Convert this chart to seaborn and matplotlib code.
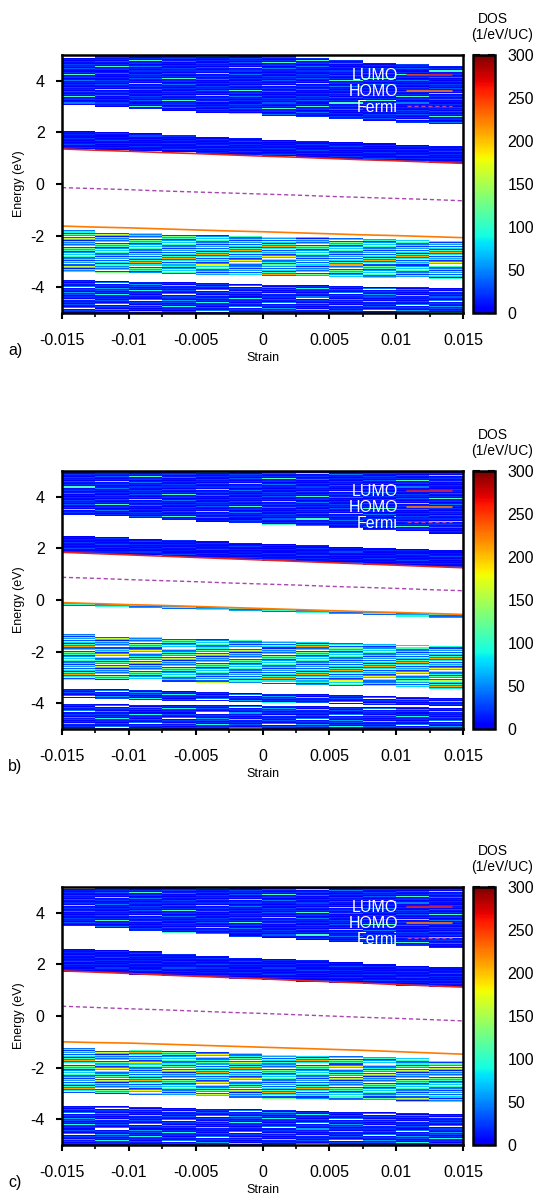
import numpy as np
import pandas as pd
import matplotlib
matplotlib.use("Agg")
import matplotlib.pyplot as plt
from matplotlib.colors import ListedColormap
import seaborn as sns

sns.set_style("ticks")
plt.rcParams['font.family'] = ['Liberation Sans', 'DejaVu Sans']
plt.rcParams.update({"axes.edgecolor": "black", "xtick.color": "black",
                     "ytick.color": "black", "text.color": "black",
                     "axes.labelcolor": "black"})

# Strain points (column edges of the DOS map, also the x of the level lines)
STRAIN = [-0.015, -0.0125, -0.01, -0.0075, -0.005, -0.0025, 0.0,
          0.0025, 0.005, 0.0075, 0.01, 0.0125, 0.015]
XTICKS = [-0.015, -0.01, -0.005, 0.0, 0.005, 0.01, 0.015]
XTICK_LABELS = ["-0.015", "-0.01", "-0.005", "0", "0.005", "0.01", "0.015"]
YTICKS = [-4, -2, 0, 2, 4]
CB_TICKS = [0, 50, 100, 150, 200, 250, 300]

# DOS textures (1/eV/UC) repeated down each band, nan = empty row
TEX_UP = [8, 15, 4, 22, 10, 2, 28, 12, 18, 6, 35, 14, 5, 20, 3, 110, 9, 16, 25, 7, 12, 45]
TEX_CB = [6, 12, 3, 18, 9, 2, 24, 10, 5, 15, 4, 13, 30, 8, 5, 20]
TEX_VB = [45, 90, 25, 120, 60, np.nan, 35, 160, 80, 15, 105, 50, 210, 40, 85,
          np.nan, 30, 130, 65, 100, 20, 55, 180, 75, np.nan, 110, 40]
TEX_DEEP = [12, 22, 6, 35, 15, 4, 45, np.nan, 10, 28, 18, 3, 60, 14, 30, 8, 20, 5, 90, 16]
TEX_HOMO = [60, 100, 40]

# ---- panel a) band edges per strain column (eV)
A_UP_HI = [4.88, 4.95, 5.0, 5.0, 5.0, 5.0, 5.0, 4.88, 4.80, 4.70, 4.63, 4.58]
A_UP_LO = [3.09, 3.00, 2.93, 2.86, 2.78, 2.72, 2.65, 2.60, 2.51, 2.45, 2.38, 2.33]
A_CB_HI = [2.06, 2.00, 1.95, 1.90, 1.85, 1.80, 1.74, 1.69, 1.64, 1.59, 1.53, 1.48]
A_CB_LO = [1.38, 1.33, 1.28, 1.23, 1.18, 1.13, 1.07, 1.02, 0.97, 0.92, 0.87, 0.82]
A_VB_HI = [-1.80, -1.84, -1.88, -1.92, -1.95, -1.98, -2.02, -2.05, -2.08, -2.12, -2.15, -2.18]
A_VB_LO = [-3.40, -3.42, -3.45, -3.47, -3.50, -3.52, -3.55, -3.57, -3.60, -3.62, -3.64, -3.66]
A_DP_HI = [-3.72, -3.75, -3.78, -3.81, -3.84, -3.87, -3.90, -3.93, -3.96, -3.99, -4.02, -4.05]
A_DP_LO = [-5.0] * 12
A_LUMO = [1.36, 1.31, 1.27, 1.22, 1.18, 1.13, 1.08, 1.04, 0.99, 0.94, 0.90, 0.85, 0.80]
A_HOMO = [-1.63, -1.67, -1.70, -1.74, -1.78, -1.82, -1.85, -1.89, -1.93, -1.97, -2.00, -2.04, -2.08]
A_FERMI = [-0.14, -0.18, -0.22, -0.27, -0.31, -0.35, -0.39, -0.43, -0.48, -0.52, -0.56, -0.60, -0.65]

# ---- panel b)
B_UP_HI = [5.0] * 12
B_UP_LO = [3.29, 3.23, 3.16, 3.13, 3.06, 3.00, 2.93, 2.87, 2.80, 2.71, 2.67, 2.58]
B_CB_HI = [2.48, 2.43, 2.38, 2.33, 2.27, 2.22, 2.17, 2.12, 2.06, 2.01, 1.96, 1.91]
B_CB_LO = [1.85, 1.80, 1.75, 1.69, 1.64, 1.59, 1.53, 1.48, 1.43, 1.38, 1.32, 1.27]
B_HB_HI = [-0.12, -0.16, -0.20, -0.24, -0.28, -0.32, -0.36, -0.40, -0.44, -0.48, -0.52, -0.56]
B_HB_LO = [-0.22, -0.26, -0.30, -0.34, -0.38, -0.42, -0.46, -0.50, -0.54, -0.58, -0.62, -0.66]
B_VB_HI = [-1.32, -1.40, -1.45, -1.49, -1.52, -1.55, -1.59, -1.63, -1.68, -1.71, -1.74, -1.81]
B_VB_LO = [-3.10, -3.10, -3.13, -3.16, -3.18, -3.21, -3.24, -3.27, -3.30, -3.33, -3.37, -3.42]
B_D1_HI = [-3.42, -3.45, -3.48, -3.52, -3.55, -3.58, -3.62, -3.65, -3.69, -3.72, -3.76, -3.79]
B_D1_LO = [-3.81, -3.84, -3.87, -3.90, -3.92, -3.95, -3.98, -4.00, -4.03, -4.06, -4.08, -4.11]
B_D2_HI = [-4.03, -4.04, -4.06, -4.07, -4.09, -4.10, -4.12, -4.13, -4.15, -4.16, -4.18, -4.19]
B_D2_LO = [-5.0] * 12
B_LUMO = [1.85, 1.80, 1.75, 1.70, 1.65, 1.60, 1.55, 1.50, 1.45, 1.40, 1.35, 1.30, 1.25]
B_HOMO = [-0.10, -0.14, -0.18, -0.21, -0.25, -0.29, -0.33, -0.37, -0.41, -0.45, -0.48, -0.52, -0.56]
B_FERMI = [0.88, 0.84, 0.79, 0.75, 0.71, 0.66, 0.62, 0.58, 0.53, 0.49, 0.45, 0.40, 0.36]

# ---- panel c)
C_UP_HI = [4.94, 5.0, 5.0, 5.0, 5.0, 5.0, 5.0, 5.0, 5.0, 5.0, 5.0, 5.0]
C_UP_LO = [3.48, 3.39, 3.30, 3.22, 3.17, 3.09, 3.04, 2.96, 2.90, 2.81, 2.73, 2.65]
C_CB_HI = [2.61, 2.57, 2.52, 2.42, 2.33, 2.26, 2.20, 2.16, 2.09, 2.00, 1.93, 1.87]
C_CB_LO = [1.73, 1.68, 1.62, 1.57, 1.51, 1.45, 1.40, 1.34, 1.29, 1.23, 1.18, 1.12]
C_VB_HI = [-1.24, -1.30, -1.30, -1.33, -1.41, -1.45, -1.50, -1.54, -1.57, -1.61, -1.65, -1.76]
C_VB_LO = [-3.01, -3.04, -3.07, -3.10, -3.13, -3.16, -3.19, -3.22, -3.25, -3.28, -3.30, -3.33]
C_DP_HI = [-3.46, -3.49, -3.52, -3.55, -3.58, -3.61, -3.64, -3.67, -3.70, -3.73, -3.75, -3.78]
C_DP_LO = [-5.0] * 12
C_LUMO = [1.75, 1.70, 1.65, 1.59, 1.54, 1.49, 1.44, 1.38, 1.33, 1.28, 1.22, 1.17, 1.12]
C_HOMO = [-1.00, -1.03, -1.05, -1.09, -1.13, -1.17, -1.21, -1.25, -1.29, -1.33, -1.38, -1.43, -1.48]
C_FERMI = [0.38, 0.33, 0.28, 0.24, 0.19, 0.14, 0.10, 0.05, 0.00, -0.05, -0.09, -0.14, -0.19]

W, H = 538, 1204
E_EDGES = np.arange(-5.0, 5.0001, 0.04)
E_MID = 0.5 * (E_EDGES[1:] + E_EDGES[:-1])
CMAP = ListedColormap(plt.cm.jet(np.linspace(0.11, 1.0, 256)))
CMAP.set_bad("white")


def dos_map(bands):
    z = np.full((len(E_MID), len(STRAIN) - 1), np.nan)
    for lo, hi, tex in bands:
        for j in range(len(STRAIN) - 1):
            rows = np.where((E_MID >= lo[j]) & (E_MID <= hi[j]))[0][::-1]
            for k, r in enumerate(rows):
                z[r, j] = tex[(k + 5 * j) % len(tex)]
    return np.ma.masked_invalid(z)


def draw_panel(fig, top, bands, lumo, homo, fermi, tag):
    ax = fig.add_axes([62 / W, 1 - (top + 258) / H, 401 / W, 258 / H])
    img = ax.imshow(dos_map(bands), cmap=CMAP, vmin=0, vmax=300, origin="lower",
                    extent=[STRAIN[0], STRAIN[-1], E_EDGES[0], E_EDGES[-1]],
                    aspect="auto", interpolation="nearest")

    df = pd.DataFrame({"strain": STRAIN, "LUMO": lumo, "HOMO": homo, "Fermi": fermi})
    sns.lineplot(data=df, x="strain", y="LUMO", ax=ax, color="#e02424", lw=1.2, label="LUMO")
    sns.lineplot(data=df, x="strain", y="HOMO", ax=ax, color="#ff7a00", lw=1.2, label="HOMO")
    sns.lineplot(data=df, x="strain", y="Fermi", ax=ax, color="#a845b0", lw=1.0,
                 dashes=(3, 2), label="Fermi")

    ax.set_xlim(-0.015, 0.015)
    ax.set_ylim(-5, 5)
    ax.set_xticks(XTICKS)
    ax.set_xticklabels(XTICK_LABELS)
    ax.set_xticks(STRAIN, minor=True)
    ax.set_yticks(YTICKS)
    ax.set_yticklabels([str(v) for v in YTICKS])
    ax.tick_params(axis="both", which="major", direction="out", length=4.5, width=1.5,
                   labelsize=11.5, pad=3)
    ax.tick_params(axis="x", which="major", pad=10)
    ax.tick_params(axis="x", which="minor", direction="out", length=3, width=1.2)
    ax.tick_params(axis="y", which="major", pad=8)
    for s in ax.spines.values():
        s.set_linewidth(1.8)
        s.set_visible(True)
    ax.set_xlabel("Strain", fontsize=9, labelpad=3)
    ax.set_ylabel("Energy (eV)", fontsize=9, labelpad=4)

    ax.legend(loc="upper right", bbox_to_anchor=(0.997, 0.985), frameon=False,
              markerfirst=False, fontsize=11.5, labelcolor="white",
              handlelength=2.8, handletextpad=0.6, labelspacing=0.05,
              borderaxespad=0.2)

    cax = fig.add_axes([473 / W, 1 - (top + 258) / H, 22 / W, 258 / H])
    cb = fig.colorbar(img, cax=cax, ticks=CB_TICKS)
    cb.outline.set_linewidth(1.8)
    cax.tick_params(direction="in", left=True, right=True, length=5, width=1.5,
                    labelsize=11.5, pad=9)
    fig.text(493 / W, 1 - (top - 36) / H, "DOS", ha="center", va="center", fontsize=10)
    fig.text(502 / W, 1 - (top - 20) / H, "(1/eV/UC)", ha="center", va="center", fontsize=10)
    fig.text(8 / W, 1 - (top + 295) / H, tag, ha="left", va="center", fontsize=11.5)
    return ax


fig = plt.figure(figsize=(W / 100, H / 100), dpi=100)

draw_panel(fig, 55,
           [(A_UP_LO, A_UP_HI, TEX_UP), (A_CB_LO, A_CB_HI, TEX_CB),
            (A_VB_LO, A_VB_HI, TEX_VB), (A_DP_LO, A_DP_HI, TEX_DEEP)],
           A_LUMO, A_HOMO, A_FERMI, "a)")
draw_panel(fig, 471,
           [(B_UP_LO, B_UP_HI, TEX_UP), (B_CB_LO, B_CB_HI, TEX_CB),
            (B_HB_LO, B_HB_HI, TEX_HOMO), (B_VB_LO, B_VB_HI, TEX_VB),
            (B_D1_LO, B_D1_HI, TEX_DEEP), (B_D2_LO, B_D2_HI, TEX_DEEP)],
           B_LUMO, B_HOMO, B_FERMI, "b)")
draw_panel(fig, 887,
           [(C_UP_LO, C_UP_HI, TEX_UP), (C_CB_LO, C_CB_HI, TEX_CB),
            (C_VB_LO, C_VB_HI, TEX_VB), (C_DP_LO, C_DP_HI, TEX_DEEP)],
           C_LUMO, C_HOMO, C_FERMI, "c)")

fig.savefig("out.png", dpi=100)
plt.close(fig)
